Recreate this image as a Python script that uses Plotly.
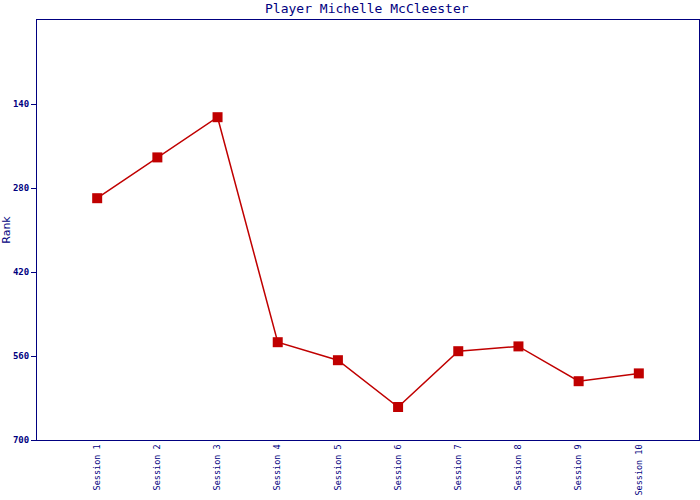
import plotly.graph_objects as go

sessions = ["Session 1", "Session 2", "Session 3", "Session 4", "Session 5",
            "Session 6", "Session 7", "Session 8", "Session 9", "Session 10"]
ranks = [297, 229, 162, 537, 567, 645, 552, 544, 602, 589]
y_ticks = [140, 280, 420, 560, 700]

navy = "#000080"
red = "#C00000"

fig = go.Figure()
fig.add_trace(go.Scatter(
    x=sessions, y=ranks, mode="lines+markers",
    line=dict(color=red, width=1.5),
    marker=dict(symbol="square", size=10, color=red),
    showlegend=False,
))

fig.update_layout(
    width=700, height=500,
    margin=dict(l=37, r=1, t=20, b=60, autoexpand=False),
    paper_bgcolor="white", plot_bgcolor="white",
    title=dict(text="Player Michelle McCleester", x=0.524, xanchor="center",
               y=0.992, yanchor="top",
               font=dict(family="DejaVu Sans Mono", size=13, color=navy)),
    xaxis=dict(type="category", range=[-1, 10], showgrid=False, zeroline=False,
               showline=True, linecolor=navy, linewidth=1, mirror=True,
               ticks="", tickangle=-90, automargin=False,
               tickfont=dict(family="DejaVu Sans Mono", size=8.5, color=navy)),
    yaxis=dict(range=[700, 0], tickvals=y_ticks, showgrid=False, zeroline=False,
               showline=True, linecolor=navy, linewidth=1, mirror=True,
               ticks="outside", ticklen=5, tickcolor=navy, automargin=False,
               tickfont=dict(family="DejaVu Sans Mono", size=9, color=navy,
                             weight="bold"),
               title=dict(text="Rank", standoff=6,
                          font=dict(family="DejaVu Sans", size=11, color=navy))),
)

fig.write_html("out.html", config={"displayModeBar": False},
               post_script="document.body.style.margin='0';document.body.style.overflow='hidden';")
